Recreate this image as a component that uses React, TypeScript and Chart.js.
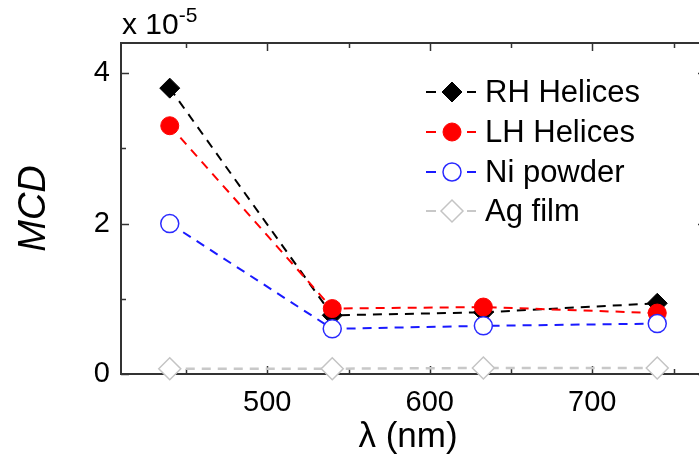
import React, { useEffect, useRef } from "react";
import { Chart, registerables } from "chart.js";

Chart.register(...registerables);

const wavelengths = [440, 540, 633, 740];
const rhHelices = [3.8, 0.78, 0.82, 0.94];
const lhHelices = [3.3, 0.87, 0.89, 0.81];
const niPowder = [2.0, 0.6, 0.64, 0.67];
const agFilm = [0.07, 0.07, 0.08, 0.08];

const seriesNames = ["RH Helices", "LH Helices", "Ni powder", "Ag film"];
const xTickValues = [500, 600, 700];
const xMinorValues = [450, 550, 650, 750];
const yTickValues = [0, 2, 4];
const yMinorValues = [1, 3];

const FONT = "'Liberation Sans', Arial, sans-serif";

type Style = {
  color: string;
  shape: "diamond" | "circle";
  fill: string;
  stroke: string;
  r: number;
  bw: number;
};

const styles: Style[] = [
  { color: "#000000", shape: "diamond", fill: "#000000", stroke: "#000000", r: 10, bw: 1 },
  { color: "#ff0000", shape: "circle", fill: "#ff0000", stroke: "#ff0000", r: 9, bw: 1 },
  { color: "#1a1aff", shape: "circle", fill: "#ffffff", stroke: "#2a2aff", r: 9, bw: 1.5 },
  { color: "#c8c8c8", shape: "diamond", fill: "#ffffff", stroke: "#c4c4c4", r: 11, bw: 1.5 },
];

function drawMarker(ctx: CanvasRenderingContext2D, s: Style, x: number, y: number) {
  ctx.save();
  ctx.beginPath();
  if (s.shape === "diamond") {
    ctx.moveTo(x - s.r, y);
    ctx.lineTo(x, y - s.r);
    ctx.lineTo(x + s.r, y);
    ctx.lineTo(x, y + s.r);
    ctx.closePath();
  } else {
    ctx.arc(x, y, s.r, 0, Math.PI * 2);
  }
  ctx.fillStyle = s.fill;
  ctx.fill();
  ctx.lineWidth = s.bw;
  ctx.strokeStyle = s.stroke;
  ctx.setLineDash([]);
  ctx.stroke();
  ctx.restore();
}

const framePlugin = {
  id: "frame",
  beforeDatasetsDraw(chart: any) {
    const { ctx, chartArea } = chart;
    const { left, right, top, bottom } = chartArea;
    const xs = chart.scales.x;
    const ys = chart.scales.y;
    ctx.save();
    ctx.strokeStyle = "#333333";
    ctx.lineWidth = 2;
    ctx.setLineDash([]);
    ctx.strokeRect(left, top, right - left, bottom - top);
    ctx.lineWidth = 1.5;
    const tick = (x1: number, y1: number, x2: number, y2: number) => {
      ctx.beginPath();
      ctx.moveTo(x1, y1);
      ctx.lineTo(x2, y2);
      ctx.stroke();
    };
    xTickValues.forEach((v) => {
      const px = Math.round(xs.getPixelForValue(v)) + 0.5;
      tick(px, bottom, px, bottom - 8);
      tick(px, top, px, top + 8);
    });
    xMinorValues.forEach((v) => {
      const px = Math.round(xs.getPixelForValue(v)) + 0.5;
      tick(px, bottom, px, bottom - 5);
      tick(px, top, px, top + 5);
    });
    yTickValues.forEach((v) => {
      const py = Math.round(ys.getPixelForValue(v)) + 0.5;
      tick(left, py, left + 8, py);
      tick(right, py, right - 8, py);
    });
    yMinorValues.forEach((v) => {
      const py = Math.round(ys.getPixelForValue(v)) + 0.5;
      tick(left, py, left + 5, py);
      tick(right, py, right - 5, py);
    });
    ctx.restore();
  },
  afterDraw(chart: any) {
    const { ctx, chartArea } = chart;
    ctx.save();
    ctx.fillStyle = "#000000";
    ctx.textBaseline = "alphabetic";
    ctx.textAlign = "left";
    ctx.font = `30px ${FONT}`;
    ctx.fillText("x 10", 122, 34);
    const w = ctx.measureText("x 10").width;
    ctx.font = `21px ${FONT}`;
    ctx.fillText("-5", 122 + w, 22);
    ctx.font = `35px ${FONT}`;
    ctx.textAlign = "center";
    ctx.fillText("λ (nm)", 408, 447);
    ctx.save();
    ctx.translate(45, (chartArea.top + chartArea.bottom) / 2);
    ctx.rotate(-Math.PI / 2);
    ctx.font = `italic 38px ${FONT}`;
    ctx.textAlign = "center";
    ctx.fillText("MCD", 0, 0);
    ctx.restore();
    const legendY = [92, 132, 172, 211];
    seriesNames.forEach((name, i) => {
      const s = styles[i];
      const y = legendY[i];
      ctx.strokeStyle = s.color;
      ctx.lineWidth = 2;
      ctx.setLineDash([]);
      ctx.beginPath();
      ctx.moveTo(426, y);
      ctx.lineTo(436, y);
      ctx.moveTo(467, y);
      ctx.lineTo(476, y);
      ctx.stroke();
      drawMarker(ctx, s, 452, y);
      ctx.fillStyle = "#000000";
      ctx.font = `31px ${FONT}`;
      ctx.textAlign = "left";
      ctx.textBaseline = "middle";
      ctx.fillText(name, 485, y + 1);
    });
    ctx.restore();
  },
};

const seriesValues = [rhHelices, lhHelices, niPowder, agFilm];

export default function App() {
  const canvasRef = useRef<HTMLCanvasElement | null>(null);

  useEffect(() => {
    if (!canvasRef.current) return;
    const datasets = seriesValues.map((vals, i) => {
      const s = styles[i];
      return {
        label: seriesNames[i],
        data: wavelengths.map((x, j) => ({ x, y: vals[j] })),
        borderColor: s.color,
        borderWidth: i === 3 ? 2.5 : 2,
        borderDash: [9, 7],
        pointStyle: s.shape === "diamond" ? "rectRot" : "circle",
        pointRadius: s.r,
        pointBackgroundColor: s.fill,
        pointBorderColor: s.stroke,
        pointBorderWidth: s.bw,
        pointHoverRadius: s.r,
        fill: false,
        tension: 0,
        clip: false as any,
        order: 3 - i,
      };
    });
    const chart = new Chart(canvasRef.current, {
      type: "line",
      data: { datasets },
      options: {
        responsive: false,
        animation: false,
        events: [],
        layout: { padding: { top: 43, right: 14, left: 0, bottom: 0 } },
        plugins: { legend: { display: false }, tooltip: { enabled: false } },
        scales: {
          x: {
            type: "linear",
            min: 410,
            max: 770,
            grid: { display: false, drawTicks: false },
            border: { display: false },
            afterBuildTicks: (scale: any) => {
              scale.ticks = xTickValues.map((v) => ({ value: v }));
            },
            afterFit: (scale: any) => {
              scale.height = 91;
              scale.paddingLeft = 0;
              scale.paddingRight = 0;
            },
            ticks: {
              padding: 12,
              color: "#000000",
              font: { family: FONT, size: 29 },
              maxRotation: 0,
              callback: (v: any) => String(v),
            },
          },
          y: {
            type: "linear",
            min: 0,
            max: 4.4,
            grid: { display: false, drawTicks: false },
            border: { display: false },
            afterBuildTicks: (scale: any) => {
              scale.ticks = yTickValues.map((v) => ({ value: v }));
            },
            afterFit: (scale: any) => {
              scale.width = 121;
              scale.paddingTop = 0;
              scale.paddingBottom = 0;
            },
            ticks: {
              padding: 11,
              color: "#000000",
              font: { family: FONT, size: 29 },
              callback: (v: any) => String(v),
            },
          },
        },
      },
      plugins: [framePlugin],
    } as any);
    return () => chart.destroy();
  }, []);

  return (
    <div style={{ position: "absolute", left: 0, top: 0, width: 699, height: 465, overflow: "hidden", background: "#ffffff" }}>
      <canvas ref={canvasRef} width={720} height={465} />
    </div>
  );
}
